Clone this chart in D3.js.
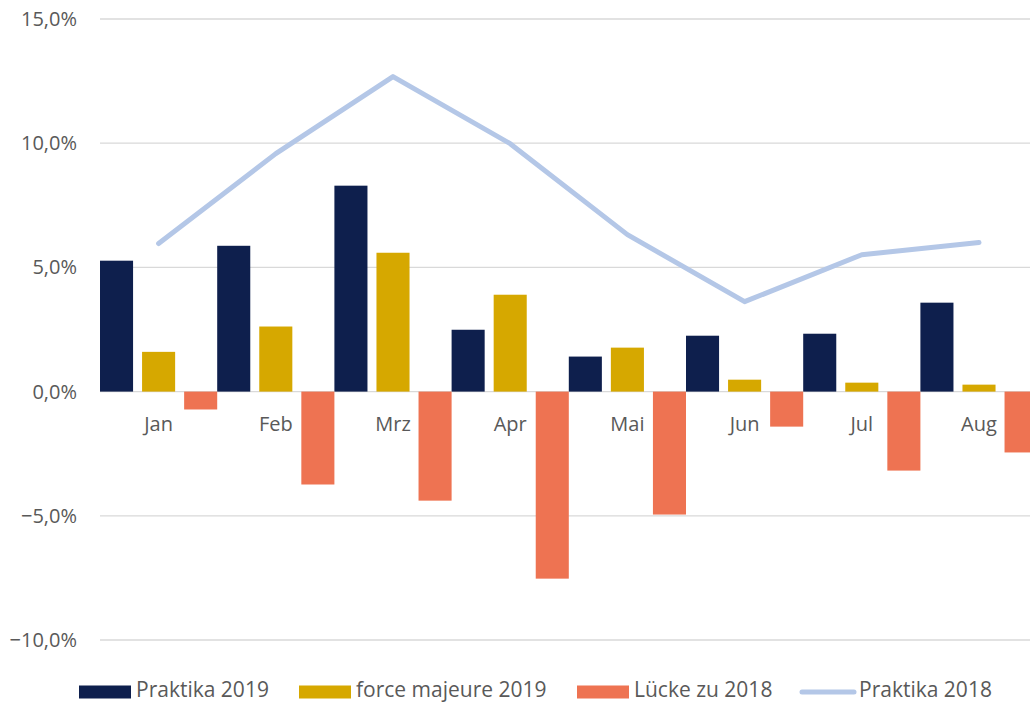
<!DOCTYPE html>
<html>
<head>
<meta charset="utf-8">
<script src="https://cdn.jsdelivr.net/npm/d3@7"></script>
<style>
  body { margin: 0; background: #fff; }
  text { font-family: "Open Sans", "Noto Sans", sans-serif; fill: #595959; }
</style>
</head>
<body>
<svg id="chart" width="1030" height="703"></svg>
<script>
// data
const months = ["Jan", "Feb", "Mrz", "Apr", "Mai", "Jun", "Jul", "Aug"];
const praktika2019 = [5.27, 5.87, 8.29, 2.49, 1.41, 2.25, 2.33, 3.58];
const forceMajeure2019 = [1.60, 2.62, 5.59, 3.90, 1.77, 0.48, 0.36, 0.28];
const lueckeZu2018 = [-0.72, -3.74, -4.39, -7.53, -4.95, -1.41, -3.18, -2.45];
const praktika2018 = [5.96, 9.58, 12.68, 9.98, 6.32, 3.62, 5.51, 6.00];
const yTicks = [-10, -5, 0, 5, 10, 15];

const barSeries = [
  {name: "Praktika 2019", values: praktika2019, color: "#0e1f4d"},
  {name: "force majeure 2019", values: forceMajeure2019, color: "#d6a800"},
  {name: "Lücke zu 2018", values: lueckeZu2018, color: "#ee7352"}
];
const lineColor = "#b4c7e7";

const svg = d3.select("#chart");
const plotLeft = 100, plotRight = 1037.6, plotTop = 19, plotBottom = 640;

const x0 = d3.scaleBand().domain(months).range([plotLeft, plotRight]).padding(0);
const x1 = d3.scaleBand().domain(barSeries.map(s => s.name))
    .range([0, x0.bandwidth()]).paddingInner(0.214).paddingOuter(0);
const y = d3.scaleLinear().domain([-10, 15]).range([plotBottom, plotTop]);

// grid + y labels
const fmt = v => d3.format(".1f")(v).replace(".", ",") + "%";
svg.append("g").selectAll("line").data(yTicks).join("line")
    .attr("x1", plotLeft).attr("x2", 1030)
    .attr("y1", d => y(d)).attr("y2", d => y(d))
    .attr("stroke", "#d9d9d9").attr("stroke-width", 1.3);
svg.append("g").selectAll("text").data(yTicks).join("text")
    .attr("x", 77).attr("y", d => y(d)).attr("dy", "0.35em")
    .attr("text-anchor", "end").style("font-size", "20px")
    .text(fmt);

// bars
barSeries.forEach(s => {
  svg.append("g").selectAll("rect").data(s.values).join("rect")
      .attr("x", (d, i) => x0(months[i]) + x1(s.name))
      .attr("width", x1.bandwidth())
      .attr("y", d => Math.min(y(d), y(0)))
      .attr("height", d => Math.abs(y(d) - y(0)))
      .attr("fill", s.color);
});

// month labels
svg.append("g").selectAll("text").data(months).join("text")
    .attr("x", d => x0(d) + x0.bandwidth() / 2).attr("y", 424)
    .attr("dy", "0.35em").attr("text-anchor", "middle")
    .style("font-size", "20px").text(d => d);

// line
const line = d3.line()
    .x((d, i) => x0(months[i]) + x0.bandwidth() / 2)
    .y(d => y(d));
svg.append("path").datum(praktika2018)
    .attr("d", line).attr("fill", "none")
    .attr("stroke", lineColor).attr("stroke-width", 5)
    .attr("stroke-linecap", "round").attr("stroke-linejoin", "round");

// legend
const legend = [
  {name: "Praktika 2019", color: barSeries[0].color, x: 79, type: "rect"},
  {name: "force majeure 2019", color: barSeries[1].color, x: 299, type: "rect"},
  {name: "Lücke zu 2018", color: barSeries[2].color, x: 577, type: "rect"},
  {name: "Praktika 2018", color: lineColor, x: 800, type: "line"}
];
const lg = svg.append("g").selectAll("g").data(legend).join("g")
    .attr("transform", d => `translate(${d.x},690)`);
lg.filter(d => d.type === "rect").append("rect")
    .attr("x", 0).attr("y", -4.5).attr("width", 52).attr("height", 13)
    .attr("fill", d => d.color);
lg.filter(d => d.type === "line").append("line")
    .attr("x1", 2).attr("x2", 54).attr("y1", 2).attr("y2", 2)
    .attr("stroke", d => d.color).attr("stroke-width", 5)
    .attr("stroke-linecap", "round");
lg.append("text")
    .attr("x", d => d.type === "line" ? 59 : 57).attr("y", 0).attr("dy", "0.35em")
    .style("font-size", "21px").text(d => d.name);
</script>
</body>
</html>
